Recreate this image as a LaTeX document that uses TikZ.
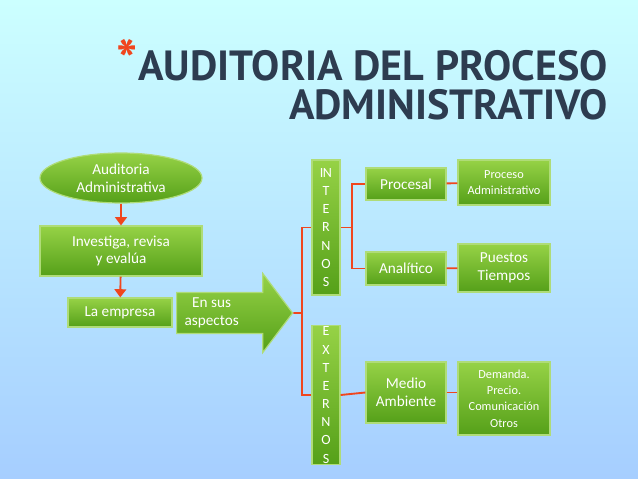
\documentclass[tikz,border=0pt]{standalone}
\usepackage{fontspec}
\setmainfont{Carlito}
\newfontfamily\titlefont{PT Sans}
\usetikzlibrary{shapes.geometric,shapes.arrows,positioning,arrows.meta}
\definecolor{boxtop}{RGB}{150,210,70}
\definecolor{boxbot}{RGB}{85,160,25}
\definecolor{boxline}{RGB}{175,220,120}
\definecolor{linkred}{RGB}{240,70,30}
\definecolor{titleblue}{RGB}{45,60,80}
\tikzset{
  box/.style={draw=boxline, line width=1pt, top color=boxtop, bottom color=boxbot,
    text=white, align=center, font=\fontsize{13}{15}\selectfont, inner sep=1pt},
  link/.style={draw=linkred, line width=1.6pt},
  down/.style={link, -{Triangle[length=7pt,width=10pt]}}
}
\begin{document}
\begin{tikzpicture}[x=0.03cm, y=-0.03cm]
\shade[top color=cyan!20!white, bottom color=cyan!45!blue!35!white] (0,0) rectangle (638,479);
\useasboundingbox (0,0) rectangle (638,479);

% title
\node[anchor=east, text=titleblue, font=\titlefont\bfseries\fontsize{36}{38}\selectfont] (t1) at (612,60)
  {\textcolor{linkred}{\fontsize{48}{48}\selectfont*}AUDITORIA DEL PROCESO};
\node[anchor=east, text=titleblue, font=\titlefont\bfseries\fontsize{36}{38}\selectfont] (t2) at (612,105)
  {ADMINISTRATIVO};

% left column
\node[box, ellipse, minimum width=162*0.03cm, minimum height=50*0.03cm] (aud) at (121,178)
  {Auditoria\\Administrativa};
\node[box, minimum width=162*0.03cm, minimum height=50*0.03cm] (inv) at (121,251)
  {Investiga, revisa\\y evalúa};
\node[box, minimum width=104*0.03cm, minimum height=29*0.03cm] (emp) at (120,312.5)
  {La empresa};
\node[box, single arrow, single arrow head extend=19*0.03cm, single arrow tip angle=106,
  minimum height=116*0.03cm, minimum width=44*0.03cm, inner sep=2pt, anchor=west] (asp) at (176,313)
  {\begin{tabular}{@{}c@{}}En sus\\aspectos\end{tabular}\hspace{26pt}};

% vertical boxes
\node[box, minimum width=28*0.03cm, minimum height=135*0.03cm, font=\fontsize{12}{15.5}\selectfont] (int) at (326,227.5)
  {I\kern-0.5ptN\\T\\E\\R\\N\\O\\S};
\node[box, minimum width=28*0.03cm, minimum height=136*0.03cm, font=\fontsize{12}{15.5}\selectfont] (ext) at (326,395)
  {E\\X\\T\\E\\R\\N\\O\\S};

% middle column
\node[box, minimum width=80*0.03cm, minimum height=32*0.03cm] (pro) at (406,184) {Procesal};
\node[box, minimum width=80*0.03cm, minimum height=33*0.03cm] (ana) at (406,268.5) {Analítico};
\node[box, minimum width=80*0.03cm, minimum height=61*0.03cm] (med) at (406,392.5) {Medio\\Ambiente};

% right column
\node[box, minimum width=92*0.03cm, minimum height=45*0.03cm, font=\fontsize{10.5}{13}\selectfont] (pad) at (504,182.5)
  {Proceso\\Administrativo};
\node[box, minimum width=92*0.03cm, minimum height=48*0.03cm] (pue) at (504,268)
  {Puestos\\Tiempos};
\node[box, minimum width=92*0.03cm, minimum height=73*0.03cm, font=\fontsize{10.5}{14}\selectfont] (dem) at (504,398.5)
  {Demanda.\\Precio.\\Comunicación\\Otros};

% connectors
\draw[down] (aud) -- (inv);
\draw[down] (inv) -- (emp);
\coordinate (fork) at (302,313);
\draw[link] (asp.tip) -- (fork);
\draw[link] (fork) |- (int.west);
\draw[link] (fork) |- (ext.west);
\coordinate (fork2) at (352,227.5);
\draw[link] (int.east) -- (fork2);
\draw[link] (fork2) |- (pro.west);
\draw[link] (fork2) |- (ana.west);
\draw[link] (ext.east) -- (med.west);
\draw[link] (pro) -- (pad);
\draw[link] (ana) -- (pue);
\draw[link] (med.east) -- (med.east -| dem.west);
\end{tikzpicture}
\end{document}
